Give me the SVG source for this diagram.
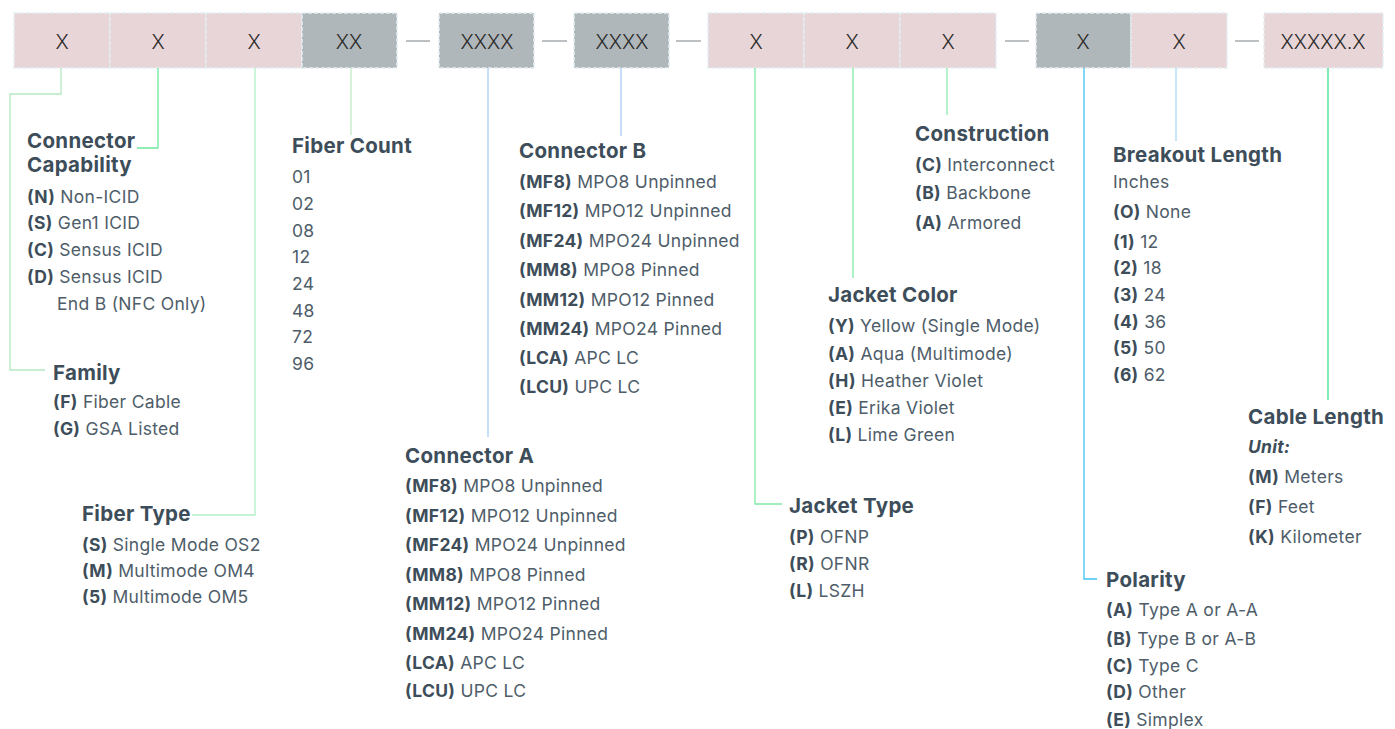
<svg xmlns="http://www.w3.org/2000/svg" width="1395" height="729" viewBox="0 0 1395 729">
<style>
.bx{stroke:#e4eef2;stroke-width:1.5;stroke-dasharray:4 2}
.pk{fill:#e8d5d7}
.gy{fill:#b0b7ba}
.bt{font-family:Inter,"Noto Sans",sans-serif;font-size:20px;fill:#2b2b2b;text-anchor:middle;font-weight:300}
.dash{stroke:#8f969a;stroke-width:1.2}
.t{font-family:Inter,"Noto Sans",sans-serif;font-size:20.5px;letter-spacing:0.3px;font-weight:700;fill:#3d4d59}
.i{font-family:Inter,"Noto Sans",sans-serif;font-size:17.5px;letter-spacing:0.3px;fill:#4e5d69}
.i tspan.b{font-weight:700;fill:#3d4d59}
.ln{fill:none;stroke-width:1.3}
</style>
<rect width="1395" height="729" fill="#ffffff"/>
<g id="code">
<g id="box1"><rect class="bx pk" x="14" y="13" width="96" height="55"/><text class="bt" x="62" y="49">X</text></g>
<g id="box2"><rect class="bx pk" x="110" y="13" width="96" height="55"/><text class="bt" x="158" y="49">X</text></g>
<g id="box3"><rect class="bx pk" x="206" y="13" width="96" height="55"/><text class="bt" x="254" y="49">X</text></g>
<g id="box4"><rect class="bx gy" x="302" y="13" width="95" height="55"/><text class="bt" x="349" y="49">XX</text></g>
<line class="dash" x1="406" y1="41" x2="430" y2="41"/>
<g id="box5"><rect class="bx gy" x="439" y="13" width="95" height="55"/><text class="bt" x="487" y="49">XXXX</text></g>
<line class="dash" x1="542" y1="41" x2="567" y2="41"/>
<g id="box6"><rect class="bx gy" x="574" y="13" width="95" height="55"/><text class="bt" x="622" y="49">XXXX</text></g>
<line class="dash" x1="676" y1="41" x2="701" y2="41"/>
<g id="box7"><rect class="bx pk" x="708" y="13" width="96" height="55"/><text class="bt" x="756" y="49">X</text></g>
<g id="box8"><rect class="bx pk" x="804" y="13" width="96" height="55"/><text class="bt" x="852" y="49">X</text></g>
<g id="box9"><rect class="bx pk" x="900" y="13" width="96" height="55"/><text class="bt" x="948" y="49">X</text></g>
<line class="dash" x1="1005" y1="41" x2="1029" y2="41"/>
<g id="box10"><rect class="bx gy" x="1036" y="13" width="95" height="55"/><text class="bt" x="1083" y="49">X</text></g>
<g id="box11"><rect class="bx pk" x="1131" y="13" width="96" height="55"/><text class="bt" x="1179" y="49">X</text></g>
<line class="dash" x1="1235" y1="41" x2="1259" y2="41"/>
<g id="box12"><rect class="bx pk" x="1264" y="13" width="119" height="55"/><text class="bt" x="1323" y="49">XXXXX.X</text></g>
</g>
<g id="connectors">
<polyline class="ln" stroke="#b4e9c2" points="61,68 61,94 10,94 10,370 45,370"/>
<polyline class="ln" stroke="#6fe89c" points="158,68 158,148 137,148"/>
<polyline class="ln" stroke="#b0efc6" points="255,68 255,515 192,515"/>
<polyline class="ln" stroke="#c4ecc6" points="351,68 351,135"/>
<polyline class="ln" stroke="#a9cdf5" points="488,68 488,437"/>
<polyline class="ln" stroke="#a9cdf5" points="621,68 621,136"/>
<polyline class="ln" stroke="#7deaa5" points="755,68 755,504 782,504"/>
<polyline class="ln" stroke="#7deaa5" points="853,68 853,278"/>
<polyline class="ln" stroke="#8eeab0" points="947,68 947,115"/>
<polyline class="ln" stroke="#3fc3f2" points="1084,68 1084,579 1097,579"/>
<polyline class="ln" stroke="#a6dcf5" points="1176,68 1176,141"/>
<polyline class="ln" stroke="#40e090" points="1328,68 1328,400"/>
</g>
<g id="connector-capability">
<text class="t" x="27" y="148">Connector</text>
<text class="t" x="27" y="172">Capability</text>
<text class="i" x="27" y="203"><tspan class="b">(N)</tspan> Non-ICID</text>
<text class="i" x="27" y="229"><tspan class="b">(S)</tspan> Gen1 ICID</text>
<text class="i" x="27" y="256"><tspan class="b">(C)</tspan> Sensus ICID</text>
<text class="i" x="27" y="283"><tspan class="b">(D)</tspan> Sensus ICID</text>
<text class="i" x="57" y="310">End B (NFC Only)</text>
</g>
<g id="family">
<text class="t" x="53" y="380">Family</text>
<text class="i" x="53" y="408"><tspan class="b">(F)</tspan> Fiber Cable</text>
<text class="i" x="53" y="435"><tspan class="b">(G)</tspan> GSA Listed</text>
</g>
<g id="fiber-type">
<text class="t" x="82" y="521">Fiber Type</text>
<text class="i" x="82" y="551"><tspan class="b">(S)</tspan> Single Mode OS2</text>
<text class="i" x="82" y="577"><tspan class="b">(M)</tspan> Multimode OM4</text>
<text class="i" x="82" y="603"><tspan class="b">(5)</tspan> Multimode OM5</text>
</g>
<g id="fiber-count">
<text class="t" x="292" y="153">Fiber Count</text>
<text class="i" x="292" y="183">01</text>
<text class="i" x="292" y="210">02</text>
<text class="i" x="292" y="237">08</text>
<text class="i" x="292" y="263">12</text>
<text class="i" x="292" y="290">24</text>
<text class="i" x="292" y="317">48</text>
<text class="i" x="292" y="343">72</text>
<text class="i" x="292" y="370">96</text>
</g>
<g id="connector-b">
<text class="t" x="519" y="158">Connector B</text>
<text class="i" x="519" y="188"><tspan class="b">(MF8)</tspan> MPO8 Unpinned</text>
<text class="i" x="519" y="217"><tspan class="b">(MF12)</tspan> MPO12 Unpinned</text>
<text class="i" x="519" y="247"><tspan class="b">(MF24)</tspan> MPO24 Unpinned</text>
<text class="i" x="519" y="276"><tspan class="b">(MM8)</tspan> MPO8 Pinned</text>
<text class="i" x="519" y="306"><tspan class="b">(MM12)</tspan> MPO12 Pinned</text>
<text class="i" x="519" y="335"><tspan class="b">(MM24)</tspan> MPO24 Pinned</text>
<text class="i" x="519" y="364"><tspan class="b">(LCA)</tspan> APC LC</text>
<text class="i" x="519" y="393"><tspan class="b">(LCU)</tspan> UPC LC</text>
</g>
<g id="connector-a">
<text class="t" x="405" y="463">Connector A</text>
<text class="i" x="405" y="492"><tspan class="b">(MF8)</tspan> MPO8 Unpinned</text>
<text class="i" x="405" y="522"><tspan class="b">(MF12)</tspan> MPO12 Unpinned</text>
<text class="i" x="405" y="551"><tspan class="b">(MF24)</tspan> MPO24 Unpinned</text>
<text class="i" x="405" y="581"><tspan class="b">(MM8)</tspan> MPO8 Pinned</text>
<text class="i" x="405" y="610"><tspan class="b">(MM12)</tspan> MPO12 Pinned</text>
<text class="i" x="405" y="640"><tspan class="b">(MM24)</tspan> MPO24 Pinned</text>
<text class="i" x="405" y="669"><tspan class="b">(LCA)</tspan> APC LC</text>
<text class="i" x="405" y="697"><tspan class="b">(LCU)</tspan> UPC LC</text>
</g>
<g id="construction">
<text class="t" x="915" y="141">Construction</text>
<text class="i" x="915" y="171"><tspan class="b">(C)</tspan> Interconnect</text>
<text class="i" x="915" y="199"><tspan class="b">(B)</tspan> Backbone</text>
<text class="i" x="915" y="229"><tspan class="b">(A)</tspan> Armored</text>
</g>
<g id="jacket-color">
<text class="t" x="828" y="302">Jacket Color</text>
<text class="i" x="828" y="332"><tspan class="b">(Y)</tspan> Yellow (Single Mode)</text>
<text class="i" x="828" y="360"><tspan class="b">(A)</tspan> Aqua (Multimode)</text>
<text class="i" x="828" y="387"><tspan class="b">(H)</tspan> Heather Violet</text>
<text class="i" x="828" y="414"><tspan class="b">(E)</tspan> Erika Violet</text>
<text class="i" x="828" y="441"><tspan class="b">(L)</tspan> Lime Green</text>
</g>
<g id="jacket-type">
<text class="t" x="789" y="513">Jacket Type</text>
<text class="i" x="789" y="543"><tspan class="b">(P)</tspan> OFNP</text>
<text class="i" x="789" y="570"><tspan class="b">(R)</tspan> OFNR</text>
<text class="i" x="789" y="597"><tspan class="b">(L)</tspan> LSZH</text>
</g>
<g id="polarity">
<text class="t" x="1106" y="587">Polarity</text>
<text class="i" x="1106" y="616"><tspan class="b">(A)</tspan> Type A or A-A</text>
<text class="i" x="1106" y="645"><tspan class="b">(B)</tspan> Type B or A-B</text>
<text class="i" x="1106" y="672"><tspan class="b">(C)</tspan> Type C</text>
<text class="i" x="1106" y="698"><tspan class="b">(D)</tspan> Other</text>
<text class="i" x="1106" y="726"><tspan class="b">(E)</tspan> Simplex</text>
</g>
<g id="breakout-length">
<text class="t" x="1113" y="162">Breakout Length</text>
<text class="i" x="1113" y="188">Inches</text>
<text class="i" x="1113" y="218"><tspan class="b">(O)</tspan> None</text>
<text class="i" x="1113" y="248"><tspan class="b">(1)</tspan> 12</text>
<text class="i" x="1113" y="274"><tspan class="b">(2)</tspan> 18</text>
<text class="i" x="1113" y="301"><tspan class="b">(3)</tspan> 24</text>
<text class="i" x="1113" y="328"><tspan class="b">(4)</tspan> 36</text>
<text class="i" x="1113" y="354"><tspan class="b">(5)</tspan> 50</text>
<text class="i" x="1113" y="381"><tspan class="b">(6)</tspan> 62</text>
</g>
<g id="cable-length">
<text class="t" x="1248" y="424">Cable Length</text>
<text class="i" x="1248" y="453"><tspan class="b" font-style="italic">Unit:</tspan></text>
<text class="i" x="1248" y="483"><tspan class="b">(M)</tspan> Meters</text>
<text class="i" x="1248" y="513"><tspan class="b">(F)</tspan> Feet</text>
<text class="i" x="1248" y="543"><tspan class="b">(K)</tspan> Kilometer</text>
</g>
</svg>
